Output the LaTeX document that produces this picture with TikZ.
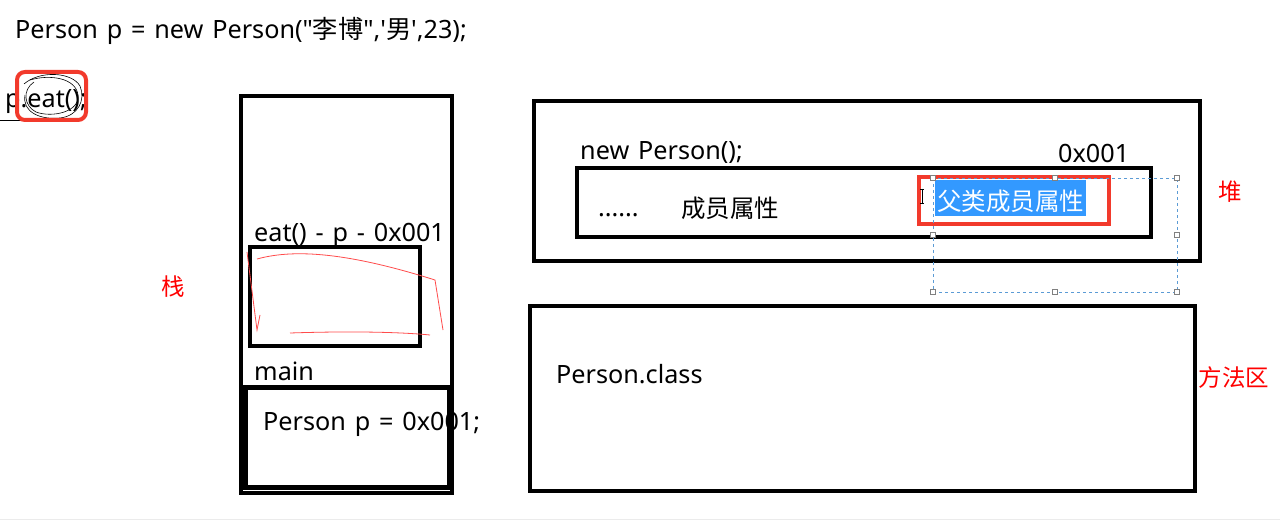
\documentclass[tikz,border=0pt]{standalone}
\usepackage{fontspec}
\setmainfont{Noto Sans}[Ligatures=TeXOff, WordSpace=1.35]
\newfontfamily\cjk{Noto Sans CJK SC}
\definecolor{redmark}{HTML}{F23A2C}
\definecolor{hilite}{HTML}{3399FF}
\definecolor{selblue}{HTML}{5B9BD5}
\definecolor{labred}{HTML}{FF0000}
\tikzset{
  txt/.style={anchor=base west, inner sep=0pt, font=\fontsize{25.2}{28}\selectfont},
  cjktxt/.style={anchor=base west, inner sep=0pt, font=\cjk\fontsize{24.5}{28}\selectfont},
  lab/.style={inner sep=0pt, text=labred, font=\cjk\fontsize{23.5}{26}\selectfont},
  frame/.style={draw=black, line width=4pt},
  handle/.style={draw=gray, fill=white, line width=0.6pt, minimum size=5pt, inner sep=0pt, rectangle},
}
\begin{document}
\begin{tikzpicture}[x=1pt,y=-1pt]
\useasboundingbox (0,0) rectangle (1280,521);
\fill[white] (0,0) rectangle (1280,521);
\draw[black!8, line width=1pt] (0,519) -- (1280,519);

% top code line
\node[txt] (code) at (15,39) {Person p = new Person("{\cjk 李博}",'{\cjk 男}',23);};
\node[txt] (call) at (5,108) {p.eat();};
\draw[black, line width=0.8pt] (0,120) -- (42,120);
\draw[black, line width=0.6pt] (24,84) .. controls (40,70) and (72,72) .. (80,86) .. controls (86,100) and (78,116) .. (60,118) .. controls (40,120) and (22,112) .. (25,95);
\draw[black, line width=0.6pt] (30,80) .. controls (50,74) and (76,78) .. (78,95) .. controls (80,112) and (52,118) .. (36,112) .. controls (24,106) and (22,90) .. (34,82);
\draw[redmark, line width=4pt, rounded corners=8pt] (17,72) rectangle (86,120);

% stack
\node[lab] (zhan) at (173,287) {栈};
\draw[frame] (241,96) rectangle (452,493);
\node[txt] (eatf) at (254,242) {eat() - p - 0x001};
\draw[frame] (250,247) rectangle (420,346);
\draw[red!70, line width=0.8pt] (247,252) -- (257,330) -- (260,315);
\draw[red!70, line width=0.8pt] (257,259) .. controls (290,250) and (340,250) .. (435,280) -- (443,330);
\draw[red!70, line width=0.8pt] (290,333) .. controls (350,331) and (400,332) .. (430,335);
\node[txt] (mainl) at (254,381) {main};
\node[txt] (pvar) at (263,430) {Person p = 0x001;};
\draw[frame, line width=5pt] (245,387) rectangle (449,487);

% heap
\node[lab] (dui) at (1230,192) {堆};
\draw[frame] (534,101) rectangle (1200,261);
\node[txt] (newp) at (580,160) {new Person();};
\node[txt] (addr) at (1058,163) {0x001};
\draw[frame] (577,168) rectangle (1151,237);
\node[txt] (dots) at (598,217) {......};
\node[cjktxt] (mem) at (681,218) {成员属性};
\draw[redmark, line width=4pt] (919,177) rectangle (1109,224);
\fill[hilite] (935,180) rectangle (1086,216);
\node[cjktxt, text=white] (pmem) at (937,211) {父类成员属性};
\draw[selblue, dashed, line width=0.8pt] (933,178) rectangle (1177,292);
\foreach \hx/\hy [count=\i] in {933/178,1055/178,1177/178,933/235,1177/235,933/292,1055/292,1177/292}
  \node[handle] (h\i) at (\hx,\hy) {};
\draw[black, line width=0.8pt] (920,189) -- (924,189) (922,189) -- (922,203) (920,203) -- (924,203);

% method area
\node[lab] (ffq) at (1234,378) {方法区};
\draw[frame] (530,306) rectangle (1195,491);
\node[txt] (pcls) at (556,384) {Person.class};
\end{tikzpicture}
\end{document}
